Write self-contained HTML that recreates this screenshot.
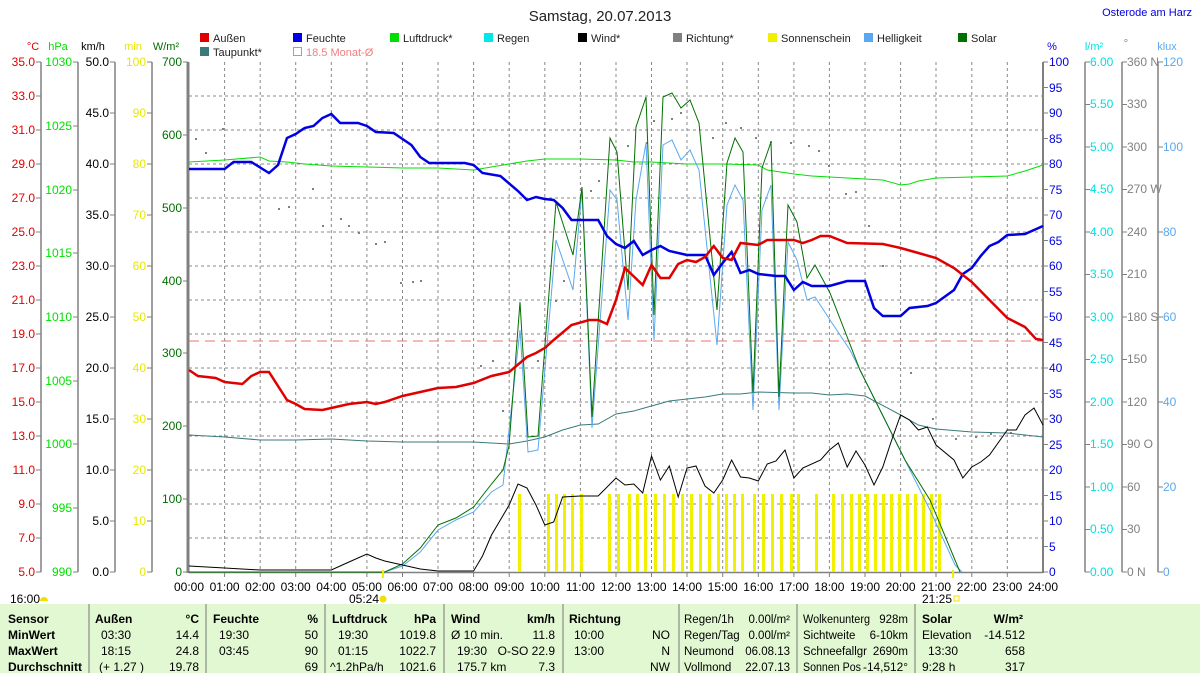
<!DOCTYPE html>
<html><head><meta charset="utf-8"><style>
body{margin:0;background:#fff;}
svg{display:block;font-family:"Liberation Sans",sans-serif;}
</style></head><body>
<svg width="1200" height="673" viewBox="0 0 1200 673" xmlns="http://www.w3.org/2000/svg">
<rect width="1200" height="673" fill="#fff"/>
<text x="600" y="21" font-size="15" text-anchor="middle" fill="#222">Samstag, 20.07.2013</text>
<text x="1192" y="16" font-size="11" text-anchor="end" fill="#0000e0">Osterode am Harz</text>
<g font-size="11" fill="#222">
<rect x="200" y="33" width="9" height="9" fill="#e00000"/><text x="213" y="42">Außen</text>
<rect x="293" y="33" width="9" height="9" fill="#0000e0"/><text x="306" y="42">Feuchte</text>
<rect x="390" y="33" width="9" height="9" fill="#00e000"/><text x="403" y="42">Luftdruck*</text>
<rect x="484" y="33" width="9" height="9" fill="#00e8e8"/><text x="497" y="42">Regen</text>
<rect x="578" y="33" width="9" height="9" fill="#000"/><text x="591" y="42">Wind*</text>
<rect x="673" y="33" width="9" height="9" fill="#808080"/><text x="686" y="42">Richtung*</text>
<rect x="768" y="33" width="9" height="9" fill="#f0f000"/><text x="781" y="42">Sonnenschein</text>
<rect x="864" y="33" width="9" height="9" fill="#5aa8f0"/><text x="877" y="42">Helligkeit</text>
<rect x="958" y="33" width="9" height="9" fill="#007000"/><text x="971" y="42">Solar</text>
<rect x="200" y="47" width="9" height="9" fill="#3a7a7a"/><text x="213" y="56">Taupunkt*</text>
<rect x="293.5" y="47.5" width="8" height="8" fill="none" stroke="#f08080"/><text x="306" y="56" fill="#f08080">18.5 Monat-Ø</text>
</g>
<g font-size="11">
<text x="33" y="50" fill="#e00000" text-anchor="middle">°C</text>
<text x="58" y="50" fill="#00e000" text-anchor="middle">hPa</text>
<text x="93" y="50" fill="#000" text-anchor="middle">km/h</text>
<text x="133" y="50" fill="#e8e800" text-anchor="middle">min</text>
<text x="166" y="50" fill="#007000" text-anchor="middle">W/m²</text>
<text x="1052" y="50" fill="#0000e0" text-anchor="middle">%</text>
<text x="1094" y="50" fill="#00e0e0" text-anchor="middle">l/m²</text>
<text x="1126" y="47" fill="#808080" text-anchor="middle">°</text>
<text x="1167" y="50" fill="#5aa8f0" text-anchor="middle">klux</text>
</g>
<g stroke="#808080" stroke-width="1.5">
<line x1="41" y1="62" x2="41" y2="572"/><line x1="78" y1="62" x2="78" y2="572"/>
<line x1="115" y1="62" x2="115" y2="572"/><line x1="152" y1="62" x2="152" y2="572"/>
<line x1="1085" y1="62" x2="1085" y2="572"/><line x1="1122" y1="62" x2="1122" y2="572"/>
<line x1="1158" y1="62" x2="1158" y2="572"/>
</g>
<!-- ticks -->
<g stroke="#808080" stroke-width="1">
<path d="M36 62H41M36 96H41M36 130H41M36 164H41M36 198H41M36 232H41M36 266H41M36 300H41M36 334H41M36 368H41M36 402H41M36 436H41M36 470H41M36 504H41M36 538H41M36 572H41"/>
<path d="M73 62H78M73 126H78M73 190H78M73 253H78M73 317H78M73 381H78M73 444H78M73 508H78M73 572H78"/>
<path d="M110 62H115M110 113H115M110 164H115M110 215H115M110 266H115M110 317H115M110 368H115M110 419H115M110 470H115M110 521H115M110 572H115"/>
<path d="M147 62H152M147 113H152M147 164H152M147 215H152M147 266H152M147 317H152M147 368H152M147 419H152M147 470H152M147 521H152M147 572H152"/>
<path d="M183 62H188M183 135H188M183 208H188M183 281H188M183 353H188M183 426H188M183 499H188M183 572H188"/>
<path d="M1043 62H1048M1043 87.5H1048M1043 113H1048M1043 138.5H1048M1043 164H1048M1043 189.5H1048M1043 215H1048M1043 240.5H1048M1043 266H1048M1043 291.5H1048M1043 317H1048M1043 342.5H1048M1043 368H1048M1043 393.5H1048M1043 419H1048M1043 444.5H1048M1043 470H1048M1043 495.5H1048M1043 521H1048M1043 546.5H1048M1043 572H1048"/>
<path d="M1085 62H1090M1085 104.5H1090M1085 147H1090M1085 189.5H1090M1085 232H1090M1085 274.5H1090M1085 317H1090M1085 359.5H1090M1085 402H1090M1085 444.5H1090M1085 487H1090M1085 529.5H1090M1085 572H1090"/>
<path d="M1122 62H1127M1122 104.5H1127M1122 147H1127M1122 189.5H1127M1122 232H1127M1122 274.5H1127M1122 317H1127M1122 359.5H1127M1122 402H1127M1122 444.5H1127M1122 487H1127M1122 529.5H1127M1122 572H1127"/>
<path d="M1158 62H1163M1158 147H1163M1158 232H1163M1158 317H1163M1158 402H1163M1158 487H1163M1158 572H1163"/>
</g>
<g font-size="12">
<g fill="#e00000" text-anchor="end">
<text x="35" y="66">35.0</text><text x="35" y="100">33.0</text><text x="35" y="134">31.0</text><text x="35" y="168">29.0</text><text x="35" y="202">27.0</text><text x="35" y="236">25.0</text><text x="35" y="270">23.0</text><text x="35" y="304">21.0</text><text x="35" y="338">19.0</text><text x="35" y="372">17.0</text><text x="35" y="406">15.0</text><text x="35" y="440">13.0</text><text x="35" y="474">11.0</text><text x="35" y="508">9.0</text><text x="35" y="542">7.0</text><text x="35" y="576">5.0</text>
</g>
<g fill="#00e000" text-anchor="end">
<text x="72" y="66">1030</text><text x="72" y="130">1025</text><text x="72" y="194">1020</text><text x="72" y="257">1015</text><text x="72" y="321">1010</text><text x="72" y="385">1005</text><text x="72" y="448">1000</text><text x="72" y="512">995</text><text x="72" y="576">990</text>
</g>
<g fill="#000" text-anchor="end">
<text x="109" y="66">50.0</text><text x="109" y="117">45.0</text><text x="109" y="168">40.0</text><text x="109" y="219">35.0</text><text x="109" y="270">30.0</text><text x="109" y="321">25.0</text><text x="109" y="372">20.0</text><text x="109" y="423">15.0</text><text x="109" y="474">10.0</text><text x="109" y="525">5.0</text><text x="109" y="576">0.0</text>
</g>
<g fill="#e8e800" text-anchor="end">
<text x="146" y="66">100</text><text x="146" y="117">90</text><text x="146" y="168">80</text><text x="146" y="219">70</text><text x="146" y="270">60</text><text x="146" y="321">50</text><text x="146" y="372">40</text><text x="146" y="423">30</text><text x="146" y="474">20</text><text x="146" y="525">10</text><text x="146" y="576">0</text>
</g>
<g fill="#007000" text-anchor="end">
<text x="182" y="66">700</text><text x="182" y="139">600</text><text x="182" y="212">500</text><text x="182" y="285">400</text><text x="182" y="357">300</text><text x="182" y="430">200</text><text x="182" y="503">100</text><text x="182" y="576">0</text>
</g>
<g fill="#0000e0">
<text x="1049" y="66">100</text><text x="1049" y="92">95</text><text x="1049" y="117">90</text><text x="1049" y="143">85</text><text x="1049" y="168">80</text><text x="1049" y="194">75</text><text x="1049" y="219">70</text><text x="1049" y="245">65</text><text x="1049" y="270">60</text><text x="1049" y="296">55</text><text x="1049" y="321">50</text><text x="1049" y="347">45</text><text x="1049" y="372">40</text><text x="1049" y="398">35</text><text x="1049" y="423">30</text><text x="1049" y="449">25</text><text x="1049" y="474">20</text><text x="1049" y="500">15</text><text x="1049" y="525">10</text><text x="1049" y="551">5</text><text x="1049" y="576">0</text>
</g>
<g fill="#00e0e0">
<text x="1090" y="66">6.00</text><text x="1090" y="108">5.50</text><text x="1090" y="151">5.00</text><text x="1090" y="193">4.50</text><text x="1090" y="236">4.00</text><text x="1090" y="278">3.50</text><text x="1090" y="321">3.00</text><text x="1090" y="363">2.50</text><text x="1090" y="406">2.00</text><text x="1090" y="448">1.50</text><text x="1090" y="491">1.00</text><text x="1090" y="533">0.50</text><text x="1090" y="576">0.00</text>
</g>
<g fill="#808080">
<text x="1127" y="66">360 N</text><text x="1127" y="108">330</text><text x="1127" y="151">300</text><text x="1127" y="193">270 W</text><text x="1127" y="236">240</text><text x="1127" y="278">210</text><text x="1127" y="321">180 S</text><text x="1127" y="363">150</text><text x="1127" y="406">120</text><text x="1127" y="448">90  O</text><text x="1127" y="491">60</text><text x="1127" y="533">30</text><text x="1127" y="576">0   N</text>
</g>
<g fill="#5aa8f0">
<text x="1163" y="66">120</text><text x="1163" y="151">100</text><text x="1163" y="236">80</text><text x="1163" y="321">60</text><text x="1163" y="406">40</text><text x="1163" y="491">20</text><text x="1163" y="576">0</text>
</g>
</g>
<g stroke="#888" stroke-dasharray="3,3" stroke-width="1">
<path d="M189 96H1043M189 130H1043M189 164H1043M189 198H1043M189 232H1043M189 266H1043M189 300H1043M189 334H1043M189 368H1043M189 402H1043M189 436H1043M189 470H1043M189 504H1043M189 538H1043"/>
<path d="M224.6 62V572M260.2 62V572M295.7 62V572M331.3 62V572M366.9 62V572M402.5 62V572M438 62V572M473.6 62V572M509.2 62V572M544.8 62V572M580.4 62V572M616 62V572M651.5 62V572M687 62V572M722.7 62V572M758.3 62V572M793.9 62V572M829.4 62V572M865 62V572M900.6 62V572M936 62V572M971.8 62V572M1007.3 62V572"/>
</g>
<line x1="188" y1="62" x2="188" y2="573" stroke="#808080" stroke-width="3"/>
<line x1="1043" y1="62" x2="1043" y2="573" stroke="#808080" stroke-width="2"/>
<line x1="188" y1="572.5" x2="1043" y2="572.5" stroke="#808080" stroke-width="1.5"/>
<g stroke="#808080" stroke-width="1"><path d="M224.6 572V577M260.2 572V577M295.7 572V577M331.3 572V577M366.9 572V577M402.5 572V577M438 572V577M473.6 572V577M509.2 572V577M544.8 572V577M580.4 572V577M616 572V577M651.5 572V577M687 572V577M722.7 572V577M758.3 572V577M793.9 572V577M829.4 572V577M865 572V577M900.6 572V577M936 572V577M971.8 572V577M1007.3 572V577"/></g>
<g fill="#f0f000">
<rect x="518" y="494" width="3" height="78"/><rect x="547" y="494" width="3" height="78"/><rect x="555" y="494" width="3" height="78"/><rect x="563" y="494" width="3" height="78"/><rect x="571" y="494" width="3" height="78"/><rect x="580" y="494" width="3" height="78"/><rect x="608" y="494" width="3" height="78"/><rect x="617" y="494" width="3" height="78"/><rect x="628" y="494" width="3" height="78"/><rect x="636" y="494" width="3" height="78"/><rect x="644" y="494" width="3" height="78"/><rect x="654" y="494" width="3" height="78"/><rect x="663" y="494" width="3" height="78"/><rect x="672" y="494" width="3" height="78"/><rect x="681" y="494" width="3" height="78"/><rect x="690" y="494" width="3" height="78"/><rect x="699" y="494" width="3" height="78"/><rect x="708" y="494" width="3" height="78"/><rect x="717" y="494" width="3" height="78"/><rect x="725" y="494" width="3" height="78"/><rect x="733" y="494" width="3" height="78"/><rect x="741" y="494" width="3" height="78"/><rect x="753" y="494" width="3" height="78"/><rect x="762" y="494" width="3" height="78"/><rect x="771" y="494" width="3" height="78"/><rect x="780" y="494" width="3" height="78"/><rect x="790" y="494" width="3" height="78"/><rect x="797" y="494" width="3" height="78"/><rect x="815" y="494" width="3" height="78"/><rect x="832" y="494" width="3" height="78"/><rect x="841" y="494" width="3" height="78"/><rect x="850" y="494" width="3" height="78"/><rect x="858" y="494" width="3" height="78"/><rect x="866" y="494" width="3" height="78"/><rect x="874" y="494" width="3" height="78"/><rect x="882" y="494" width="3" height="78"/><rect x="890" y="494" width="3" height="78"/><rect x="898" y="494" width="3" height="78"/><rect x="906" y="494" width="3" height="78"/><rect x="914" y="494" width="3" height="78"/><rect x="922" y="494" width="3" height="78"/><rect x="930" y="494" width="3" height="78"/><rect x="938" y="494" width="3" height="78"/>
</g>
<g fill="#808080">
<rect x="195" y="138" width="2" height="2"/><rect x="205" y="152" width="2" height="2"/><rect x="222" y="128" width="2" height="2"/><rect x="278" y="208" width="2" height="2"/><rect x="288" y="206" width="2" height="2"/><rect x="312" y="188" width="2" height="2"/><rect x="322" y="225" width="2" height="2"/><rect x="340" y="218" width="2" height="2"/><rect x="348" y="225" width="2" height="2"/><rect x="358" y="232" width="2" height="2"/><rect x="375" y="243" width="2" height="2"/><rect x="384" y="241" width="2" height="2"/><rect x="400" y="282" width="2" height="2"/><rect x="412" y="281" width="2" height="2"/><rect x="420" y="280" width="2" height="2"/><rect x="480" y="365" width="2" height="2"/><rect x="492" y="360" width="2" height="2"/><rect x="502" y="410" width="2" height="2"/><rect x="537" y="360" width="2" height="2"/><rect x="555" y="300" width="2" height="2"/><rect x="563" y="280" width="2" height="2"/><rect x="590" y="190" width="2" height="2"/><rect x="598" y="180" width="2" height="2"/><rect x="627" y="145" width="2" height="2"/><rect x="646" y="142" width="2" height="2"/><rect x="653" y="120" width="2" height="2"/><rect x="671" y="118" width="2" height="2"/><rect x="680" y="112" width="2" height="2"/><rect x="712" y="137" width="2" height="2"/><rect x="725" y="122" width="2" height="2"/><rect x="740" y="127" width="2" height="2"/><rect x="755" y="137" width="2" height="2"/><rect x="770" y="141" width="2" height="2"/><rect x="790" y="142" width="2" height="2"/><rect x="808" y="145" width="2" height="2"/><rect x="818" y="150" width="2" height="2"/><rect x="828" y="165" width="2" height="2"/><rect x="845" y="193" width="2" height="2"/><rect x="855" y="191" width="2" height="2"/><rect x="868" y="225" width="2" height="2"/><rect x="882" y="265" width="2" height="2"/><rect x="910" y="372" width="2" height="2"/><rect x="932" y="418" width="2" height="2"/><rect x="955" y="438" width="2" height="2"/><rect x="975" y="436" width="2" height="2"/><rect x="990" y="433" width="2" height="2"/><rect x="1010" y="432" width="2" height="2"/></g>
<line x1="189" y1="341" x2="1043" y2="341" stroke="#f07070" stroke-dasharray="10,6" stroke-width="1"/>
<polyline fill="none" stroke="#3a7a7a" stroke-width="1" points="189,435 224.6,437 260.2,440 295.7,440 331.3,439 366.9,441 402.5,442 438,442 473.6,442 509.2,444 527,441 544.8,437 562.6,430 580.4,425 598.2,424 616,414 633.8,411 651.5,406 669.3,401 687,399 705,397 722.7,394 740.5,394 758.3,392 793.9,393 811.7,393 829.4,395 847.2,394 865,396 900.6,415 918.4,425 936,429 971.8,432 1007.3,433 1043,437"/>
<polyline fill="none" stroke="#00e000" stroke-width="1" points="189,162 224.6,160 260.2,157 269,161 287,162 304.6,164 331.3,166 366.9,167 402.5,168 438,168 473.6,170 509.2,164 527,161 544.8,159 580.4,159 616,160 633.8,162 651.5,162 669.3,163 687,164 722.7,164 758.3,165 767.2,170 793.9,174 811.7,176 829.4,177 865,179 882.8,180 900.6,185 909.5,184 918.4,181 936,178 971.8,177 1007.3,176 1025,171 1043,165"/>
<polyline fill="none" stroke="#5aa8f0" stroke-width="1" points="189,572 384.7,572 402.5,566 420.3,552 438,530 455.9,520 473.6,512 491.5,492 503,485 520,330 528,452 538,450 556,240 573,290 582,190 592,428 610,190 617,200 628,320 636,200 646,143 654,340 663,145 672,140 681,160 690,150 699,170 717,345 727,205 735,185 743,200 753,410 762,210 771,185 779,410 788,242 797,260 807,300 815,297 830,320 850,350 870,390 890,430 910,470 930,510 955,565 962,572"/>
<polyline fill="none" stroke="#007000" stroke-width="1" points="189,572 384.7,572 402.5,564 420.3,548 438,525 455.9,518 473.6,507 491.5,484 503,470 509,446 520,302 528,437 538,436 556,202 573,255 582,187 592,417 610,138 617,152 628,290 636,127 646,97 654,315 663,97 672,93 681,108 690,100 699,123 717,310 727,163 735,138 743,152 753,393 762,168 771,142 779,397 788,205 797,222 807,278 815,265 830,293 860,370 880,410 905,460 930,500 960,572"/>
<polyline fill="none" stroke="#000" stroke-width="1" points="189,566 224.6,568 260.2,570 331.3,570 349,562 366.9,554 375.8,558 384.7,561 402.5,565 420.3,569 438,571 473.6,571 482.5,556 491.5,535 509.2,505 518,484 527,488 536,505 544.8,525 553.7,522 562.6,497 580.4,496 598.2,496 616,478 625,485 633.8,484 642.7,493 651.5,456 660.4,480 669.3,466 678.2,497 687,468 696,466 705,486 713.8,493 722.7,480 731.6,460 740.5,477 749.4,478 758.3,481 767.2,464 776,461 785,450 793.9,478 802.8,468 820.6,460 829.4,450 838.3,443 847.2,467 856,451 865,465 874,485 882.8,467 891.7,440 900.6,415 909.5,420 918.4,430 927.3,427 936,445 954,460 962.8,478 971.8,467 980.7,462 989.5,455 1007.3,430 1016.2,430 1025,415 1034,408 1043,425"/>
<polyline fill="none" stroke="#0000e0" stroke-width="2.5" points="189,169 224.6,169 233.5,162 251.3,162 269,173 278,165 287,138 295.7,134 304.6,128 313.5,126 322.4,118 331.3,114 340.2,123 358,123 366.9,126 375.8,132 393.6,133 411.4,145 420.3,157 429.2,163 464.8,163 473.6,165 482.5,173 500.4,176 518,191 527,200 536,197 544.8,199 553.7,200 562.6,208 571.5,220 598.2,220 607,236 616,244 625,248 633.8,241 642.7,255 651.5,250 660.4,246 669.3,251 687,255 705,255 713.8,275 722.7,263 731.6,252 740.5,273 749.4,270 758.3,274 776,276 785,276 793.9,290 802.8,282 811.7,286 829.4,286 847.2,281 865,281 874,308 882.8,316 900.6,316 909.5,308 927.3,306 936,303 954,290 962.8,274 971.8,268 980.7,256 989.5,246 998.4,242 1007.3,235 1025,234 1043,226"/>
<polyline fill="none" stroke="#e00000" stroke-width="2.5" points="189,370 197.9,376 215.7,378 224.6,382 242.4,384 251.3,376 260.2,372 269,372 278,386 287,400 295.7,404 304.6,409 322.4,410 331.3,408 349,404 366.9,402 375.8,404 384.7,402 402.5,396 420.3,392 438,388 455.9,387 473.6,383 491.5,376 509.2,372 527,357 536,353 544.8,348 553.7,340 571.5,325 589.3,320 598.2,320 607,324 616,300 625,268 642.7,285 651.5,265 660.4,278 669.3,278 678.2,264 687,260 696,262 705,257 713.8,246 722.7,258 731.6,260 740.5,243 749.4,244 758.3,245 767.2,240 793.9,240 802.8,243 811.7,240 820.6,236 829.4,236 847.2,243 882.8,244 900.6,248 918.4,253 936,258 954,268 971.8,282 989.5,300 1007.3,318 1025,327 1036,339 1043,340"/>
<g font-size="12" fill="#000" text-anchor="middle">
<text x="189" y="591">00:00</text><text x="224.6" y="591">01:00</text><text x="260.2" y="591">02:00</text><text x="295.7" y="591">03:00</text><text x="331.3" y="591">04:00</text><text x="366.9" y="591">05:00</text><text x="402.5" y="591">06:00</text><text x="438" y="591">07:00</text><text x="473.6" y="591">08:00</text><text x="509.2" y="591">09:00</text><text x="544.8" y="591">10:00</text><text x="580.4" y="591">11:00</text><text x="616" y="591">12:00</text><text x="651.5" y="591">13:00</text><text x="687" y="591">14:00</text><text x="722.7" y="591">15:00</text><text x="758.3" y="591">16:00</text><text x="793.9" y="591">17:00</text><text x="829.4" y="591">18:00</text><text x="865" y="591">19:00</text><text x="900.6" y="591">20:00</text><text x="936" y="591">21:00</text><text x="971.8" y="591">22:00</text><text x="1007.3" y="591">23:00</text><text x="1043" y="591">24:00</text>
<text x="364" y="603">05:24</text><text x="937" y="603">21:25</text>
</g>
<text x="10" y="603" font-size="12">16:00</text>
<path d="M40 601 A4 4 0 0 1 48 601 Z" fill="#f0e000"/>
<circle cx="383" cy="599" r="3.5" fill="#f0e000"/>
<rect x="954" y="596" width="5" height="5" fill="none" stroke="#f0e000"/>
<rect x="382" y="570" width="2" height="8" fill="#f0f000"/><rect x="952" y="570" width="2" height="8" fill="#f0f000"/>
<rect x="0" y="604" width="1200" height="69" fill="#e2f8d2"/>
<g stroke="#777" stroke-width="1">
<line x1="89" y1="604" x2="89" y2="673"/><line x1="206" y1="604" x2="206" y2="673"/><line x1="325" y1="604" x2="325" y2="673"/><line x1="444" y1="604" x2="444" y2="673"/><line x1="563" y1="604" x2="563" y2="673"/><line x1="679" y1="604" x2="679" y2="673"/><line x1="797" y1="604" x2="797" y2="673"/><line x1="915" y1="604" x2="915" y2="673"/>
</g>
<g font-size="12" fill="#000">
<g font-weight="bold">
<text x="8" y="623">Sensor</text><text x="8" y="639">MinWert</text><text x="8" y="655">MaxWert</text><text x="8" y="671">Durchschnitt</text>
<text x="95" y="623">Außen</text><text x="199" y="623" text-anchor="end">°C</text>
<text x="213" y="623">Feuchte</text><text x="318" y="623" text-anchor="end">%</text>
<text x="332" y="623">Luftdruck</text><text x="436" y="623" text-anchor="end">hPa</text>
<text x="451" y="623">Wind</text><text x="555" y="623" text-anchor="end">km/h</text>
<text x="569" y="623">Richtung</text>
<text x="922" y="623">Solar</text><text x="1023" y="623" text-anchor="end">W/m²</text>
</g>
<text x="101" y="639">03:30</text><text x="199" y="639" text-anchor="end">14.4</text>
<text x="101" y="655">18:15</text><text x="199" y="655" text-anchor="end">24.8</text>
<text x="99" y="671">(+ 1.27 )</text><text x="199" y="671" text-anchor="end">19.78</text>
<text x="219" y="639">19:30</text><text x="318" y="639" text-anchor="end">50</text>
<text x="219" y="655">03:45</text><text x="318" y="655" text-anchor="end">90</text>
<text x="318" y="671" text-anchor="end">69</text>
<text x="338" y="639">19:30</text><text x="436" y="639" text-anchor="end">1019.8</text>
<text x="338" y="655">01:15</text><text x="436" y="655" text-anchor="end">1022.7</text>
<text x="330" y="671">^1.2hPa/h</text><text x="436" y="671" text-anchor="end">1021.6</text>
<text x="451" y="639">Ø 10 min.</text><text x="555" y="639" text-anchor="end">11.8</text>
<text x="457" y="655">19:30</text><text x="555" y="655" text-anchor="end">O-SO 22.9</text>
<text x="457" y="671">175.7 km</text><text x="555" y="671" text-anchor="end">7.3</text>
<text x="574" y="639">10:00</text><text x="670" y="639" text-anchor="end">NO</text>
<text x="574" y="655">13:00</text><text x="670" y="655" text-anchor="end">N</text>
<text x="670" y="671" text-anchor="end">NW</text>
<g font-size="11.5">
<text x="684" y="623">Regen/1h</text><text x="790" y="623" text-anchor="end">0.00l/m²</text>
<text x="684" y="639">Regen/Tag</text><text x="790" y="639" text-anchor="end">0.00l/m²</text>
<text x="684" y="655">Neumond</text><text x="790" y="655" text-anchor="end">06.08.13</text>
<text x="684" y="671">Vollmond</text><text x="790" y="671" text-anchor="end">22.07.13</text>
<text x="803" y="623" textLength="67" lengthAdjust="spacingAndGlyphs">Wolkenunterg</text><text x="908" y="623" text-anchor="end">928m</text>
<text x="803" y="639">Sichtweite</text><text x="908" y="639" text-anchor="end">6-10km</text>
<text x="803" y="655" textLength="64" lengthAdjust="spacingAndGlyphs">Schneefallgr</text><text x="908" y="655" text-anchor="end">2690m</text>
<text x="803" y="671" textLength="58" lengthAdjust="spacingAndGlyphs">Sonnen Pos</text><text x="908" y="671" text-anchor="end" textLength="45" lengthAdjust="spacingAndGlyphs">-14,512°</text>
</g>
<text x="922" y="639">Elevation</text><text x="1025" y="639" text-anchor="end">-14.512</text>
<text x="928" y="655">13:30</text><text x="1025" y="655" text-anchor="end">658</text>
<text x="922" y="671">9:28 h</text><text x="1025" y="671" text-anchor="end">317</text>
</g>
</svg>
</body></html>
